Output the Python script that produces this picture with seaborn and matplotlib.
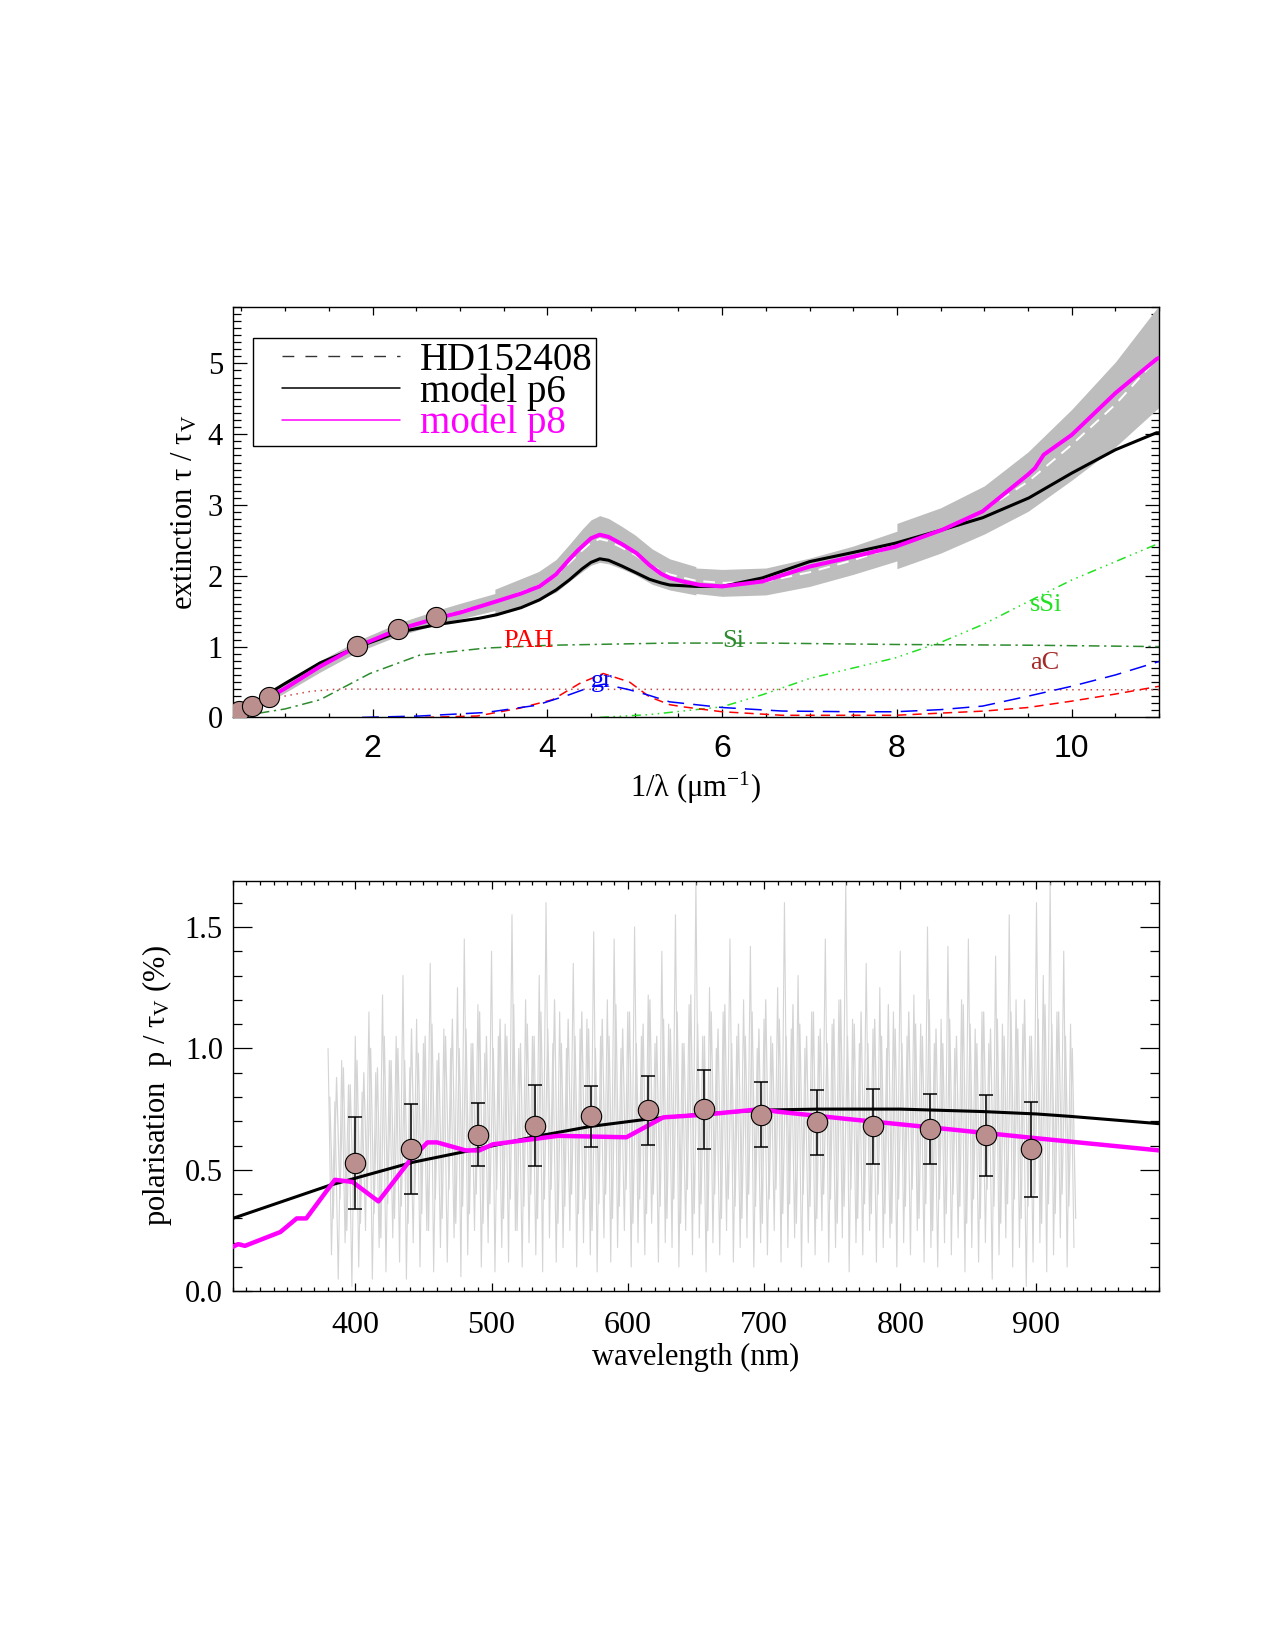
import numpy as np
import matplotlib
matplotlib.use("Agg")
import matplotlib.pyplot as plt
import seaborn as sns
from matplotlib.ticker import MultipleLocator
from matplotlib.lines import Line2D
from matplotlib.legend_handler import HandlerLine2D

# ---------------- top panel: extinction curve ----------------
# model p8 (magenta)
p8_x = [0.45, 0.6, 0.8, 1.0, 1.4, 1.82, 2.29, 2.73, 3.0, 3.42, 3.7, 3.91, 4.1, 4.25, 4.35, 4.5,
        4.6, 4.7, 4.85, 5.02, 5.17, 5.3, 5.4, 5.55, 5.75, 6.0, 6.46, 7.0, 7.5, 7.98, 8.52, 8.98,
        9.5, 9.58, 9.68, 10.0, 10.5, 10.97, 11.0]
p8_y = [0.04, 0.13, 0.27, 0.41, 0.72, 1.0, 1.24, 1.40, 1.48, 1.64, 1.75, 1.85, 2.02, 2.23, 2.36, 2.53,
        2.58, 2.55, 2.45, 2.32, 2.15, 2.03, 1.97, 1.92, 1.87, 1.85, 1.92, 2.13, 2.27, 2.41, 2.65, 2.91,
        3.43, 3.52, 3.71, 3.99, 4.58, 5.06, 5.08]
# model p6 (black)
p6_x = [0.45, 0.6, 0.8, 1.0, 1.4, 1.82, 2.29, 2.73, 3.22, 3.42, 3.7, 3.91, 4.1, 4.25, 4.4, 4.5,
        4.6, 4.7, 4.85, 5.02, 5.17, 5.3, 5.4, 5.7, 6.0, 6.46, 7.0, 7.5, 7.98, 8.52, 8.98, 9.51,
        10.0, 10.5, 10.97, 11.0]
p6_y = [0.06, 0.16, 0.33, 0.48, 0.77, 0.99, 1.20, 1.31, 1.40, 1.45, 1.55, 1.66, 1.80, 1.94, 2.10, 2.19,
        2.24, 2.22, 2.14, 2.04, 1.95, 1.90, 1.87, 1.85, 1.85, 1.97, 2.20, 2.33, 2.46, 2.65, 2.82, 3.10,
        3.45, 3.78, 4.02, 4.02]
# HD152408 observed extinction and its uncertainty (segmented)
hd_x = [0.8, 1.0, 1.4, 1.82, 2.29, 2.73, 3.0, 3.4, 3.4, 3.9, 4.1, 4.25, 4.4, 4.5, 4.6, 4.7, 4.85,
        5.0, 5.2, 5.4, 5.7, 5.7, 6.0, 6.5, 7.0, 7.5, 8.0, 8.0, 8.5, 9.0, 9.5, 10.0, 10.5, 11.0]
hd_y = [0.27, 0.42, 0.72, 1.0, 1.24, 1.41, 1.50, 1.63, 1.63, 1.86, 2.00, 2.18, 2.36, 2.47, 2.52, 2.49, 2.40,
        2.30, 2.13, 2.02, 1.93, 1.93, 1.90, 1.92, 2.05, 2.22, 2.42, 2.42, 2.64, 2.93, 3.33, 3.85, 4.42, 5.10]
hd_err = [0.06, 0.07, 0.08, 0.08, 0.09, 0.10, 0.11, 0.12, 0.18, 0.20, 0.23, 0.26, 0.30, 0.32, 0.33, 0.32,
          0.30, 0.28, 0.25, 0.22, 0.20, 0.18, 0.19, 0.19, 0.20, 0.20, 0.21, 0.32, 0.32, 0.34, 0.42, 0.50,
          0.60, 0.72]
# photometric points
phot_x = [0.47, 0.62, 0.815, 1.82, 2.29, 2.73]
phot_y = [0.09, 0.16, 0.29, 1.01, 1.25, 1.42]
# dust components
si_x = [0.45, 0.54, 0.7, 1.0, 1.4, 1.97, 2.54, 3.3, 4.06, 5.4, 6.5, 8.0, 9.5, 11.0]
si_y = [0.0, 0.03, 0.06, 0.12, 0.25, 0.62, 0.88, 0.98, 1.02, 1.05, 1.05, 1.03, 1.02, 1.0]
ssi_x = [4.6, 5.17, 6.0, 6.46, 7.0, 7.98, 8.52, 8.98, 9.51, 10.0, 10.5, 11.0]
ssi_y = [0.0, 0.04, 0.15, 0.32, 0.55, 0.84, 1.07, 1.31, 1.64, 1.94, 2.20, 2.46]
ac_x = [0.6, 0.9, 1.3, 1.6, 11.0]
ac_y = [0.12, 0.28, 0.37, 0.40, 0.39]
pah_x = [2.6, 3.2, 3.68, 4.06, 4.37, 4.64, 4.94, 5.17, 5.4, 5.55, 6.0, 6.69, 7.98, 9.0, 9.5,
         10.0, 10.5, 11.0]
pah_y = [0.0, 0.02, 0.13, 0.25, 0.48, 0.62, 0.50, 0.29, 0.18, 0.15, 0.08, 0.03, 0.03, 0.09, 0.14,
         0.23, 0.33, 0.44]
gr_x = [1.88, 2.54, 3.3, 3.87, 4.25, 4.52, 4.65, 4.94, 5.17, 5.4, 5.55, 6.0, 6.69, 7.5, 7.98,
        8.5, 8.98, 9.5, 10.0, 10.5, 11.0]
gr_y = [0.0, 0.02, 0.07, 0.17, 0.32, 0.44, 0.47, 0.39, 0.31, 0.22, 0.20, 0.14, 0.09, 0.08, 0.08,
        0.11, 0.16, 0.30, 0.44, 0.60, 0.79]

top_xticks = [2, 4, 6, 8, 10]
top_yticks = [0, 1, 2, 3, 4, 5]

# ---------------- bottom panel: polarisation ----------------
pol_wl = [400, 441, 490, 532, 573, 615, 656, 698, 739, 780, 822, 863, 896]
pol_val = [0.527, 0.586, 0.645, 0.682, 0.72, 0.746, 0.75, 0.727, 0.695, 0.679, 0.668, 0.643, 0.585]
pol_err = [0.19, 0.185, 0.13, 0.166, 0.124, 0.142, 0.163, 0.135, 0.135, 0.153, 0.145, 0.167, 0.195]

pp6_wl = [310, 381, 442, 490, 532, 573, 615, 656, 698, 740, 800, 860, 900, 925, 990]
pp6_val = [0.30, 0.436, 0.531, 0.586, 0.637, 0.679, 0.709, 0.73, 0.746, 0.75, 0.75, 0.74, 0.73,
           0.72, 0.69]
pp8_wl = [310, 314, 319, 345, 357, 364, 385, 398, 417, 440, 453, 460, 481, 491, 501, 549, 599,
          626, 656, 698, 709, 760, 822, 900, 990]
pp8_val = [0.183, 0.194, 0.187, 0.244, 0.30, 0.30, 0.459, 0.45, 0.37, 0.538, 0.613, 0.613, 0.58,
           0.58, 0.605, 0.64, 0.634, 0.716, 0.727, 0.75, 0.74, 0.71, 0.675, 0.63, 0.58]

# noisy spectropolarimetry, every 5 nm from 380 nm: large excursions
spec_hi = [1.00, 0.78, 0.95, 0.85, 1.05, 0.82, 1.15, 0.90, 1.22, 0.95,
           1.05, 1.30, 0.92, 1.12, 1.02, 1.35, 0.95, 1.08, 1.00, 1.25,
           1.45, 1.02, 1.18, 0.98, 1.40, 1.05, 1.10, 1.55, 1.00, 1.20,
           1.05, 1.30, 1.60, 1.02, 1.15, 1.00, 1.35, 1.08, 1.12, 1.48,
           1.05, 1.20, 1.45, 1.00, 1.15, 1.50, 1.05, 1.22, 1.02, 1.40,
           1.10, 1.55, 1.02, 1.18, 1.68, 1.05, 1.25, 1.00, 1.15, 1.45,
           1.05, 1.20, 1.42, 1.00, 1.12, 1.05, 1.25, 1.60, 1.08, 1.30,
           1.00, 1.15, 1.05, 1.45, 1.10, 1.20, 1.68, 1.12, 1.02, 1.35,
           1.08, 1.25, 1.00, 1.15, 1.40, 1.05, 1.22, 1.10, 1.50, 1.02,
           1.12, 1.42, 1.00, 1.20, 1.45, 1.08, 1.15, 1.02, 1.38, 1.10,
           1.55, 1.20, 1.10, 1.05, 1.60, 1.30, 1.68, 1.15, 1.40, 1.10]
spec_lo = [0.15, 0.05, 0.20, 0.02, 0.10, 0.25, 0.05, 0.18, 0.08, 0.22,
           0.12, 0.05, 0.20, 0.10, 0.25, 0.08, 0.18, 0.12, 0.22, 0.06,
           0.15, 0.25, 0.10, 0.20, 0.08, 0.18, 0.12, 0.25, 0.10, 0.20,
           0.15, 0.08, 0.22, 0.12, 0.18, 0.25, 0.10, 0.20, 0.15, 0.08,
           0.22, 0.12, 0.18, 0.25, 0.10, 0.20, 0.15, 0.28, 0.12, 0.20,
           0.18, 0.10, 0.25, 0.15, 0.22, 0.08, 0.20, 0.15, 0.25, 0.12,
           0.18, 0.22, 0.10, 0.20, 0.15, 0.25, 0.12, 0.18, 0.22, 0.10,
           0.20, 0.15, 0.25, 0.12, 0.18, 0.22, 0.08, 0.20, 0.15, 0.25,
           0.12, 0.18, 0.22, 0.10, 0.20, 0.15, 0.25, 0.12, 0.18, 0.10,
           0.20, 0.15, 0.22, 0.08, 0.18, 0.12, 0.20, 0.05, 0.15, 0.22,
           0.10, 0.18, 0.02, 0.12, 0.20, 0.08, 0.15, 0.22, 0.10, 0.18]
# moderate excursions (same 5 nm grid, shifted by 1.25 nm)
spec2_hi = [0.80, 0.88, 0.92, 0.85, 0.95, 0.90, 1.00, 0.92, 1.05, 0.95,
            1.00, 0.95, 1.08, 0.98, 1.05, 1.10, 0.98, 1.05, 1.12, 1.00,
            1.08, 1.02, 1.15, 1.05, 1.00, 1.12, 1.05, 1.18, 1.02, 1.10,
            1.05, 1.15, 1.08, 1.20, 1.02, 1.12, 1.05, 1.15, 1.08, 1.00,
            1.12, 1.05, 1.18, 1.08, 1.15, 1.02, 1.10, 1.20, 1.05, 1.12,
            1.08, 1.15, 1.02, 1.22, 1.10, 1.05, 1.15, 1.08, 1.18, 1.02,
            1.10, 1.05, 1.15, 1.08, 1.20, 1.02, 1.12, 1.05, 1.18, 1.10,
            1.05, 1.15, 1.08, 1.02, 1.12, 1.20, 1.05, 1.10, 1.15, 1.02,
            1.12, 1.05, 1.18, 1.08, 1.02, 1.15, 1.10, 1.05, 1.20, 1.08,
            1.02, 1.12, 1.05, 1.18, 1.10, 1.02, 1.15, 1.08, 1.12, 1.05,
            1.15, 1.08, 1.20, 1.05, 1.12, 1.18, 1.10, 1.15, 1.05, 1.00]
spec2_lo = [0.30, 0.38, 0.25, 0.35, 0.28, 0.40, 0.32, 0.22, 0.36, 0.30,
            0.35, 0.28, 0.40, 0.32, 0.25, 0.38, 0.30, 0.42, 0.28, 0.35,
            0.32, 0.40, 0.28, 0.36, 0.42, 0.30, 0.38, 0.25, 0.35, 0.40,
            0.30, 0.38, 0.42, 0.28, 0.35, 0.40, 0.32, 0.38, 0.25, 0.36,
            0.40, 0.30, 0.35, 0.42, 0.28, 0.38, 0.32, 0.40, 0.35, 0.30,
            0.38, 0.28, 0.42, 0.32, 0.36, 0.25, 0.40, 0.30, 0.38, 0.35,
            0.30, 0.40, 0.35, 0.28, 0.38, 0.42, 0.32, 0.36, 0.28, 0.40,
            0.35, 0.30, 0.40, 0.38, 0.28, 0.35, 0.42, 0.30, 0.36, 0.32,
            0.40, 0.32, 0.28, 0.38, 0.35, 0.42, 0.30, 0.36, 0.25, 0.38,
            0.32, 0.40, 0.35, 0.28, 0.38, 0.30, 0.42, 0.35, 0.28, 0.36,
            0.38, 0.30, 0.35, 0.40, 0.28, 0.36, 0.32, 0.40, 0.35, 0.30]

bot_xticks = [400, 500, 600, 700, 800, 900]
bot_yticks = [0.0, 0.5, 1.0, 1.5]
bot_yticklabels = ["0.0", "0.5", "1.0", "1.5"]

# ---------------- style ----------------
sns.set_theme(style="ticks")
SERIF = ["Liberation Serif", "DejaVu Serif"]
SANS = ["Liberation Sans", "DejaVu Sans"]
plt.rcParams["font.family"] = SERIF
plt.rcParams["mathtext.fontset"] = "custom"
plt.rcParams["mathtext.rm"] = "Liberation Serif"
plt.rcParams["mathtext.it"] = "Liberation Serif:italic"
plt.rcParams["mathtext.bf"] = "Liberation Serif:bold"
plt.rcParams["axes.linewidth"] = 1.0
plt.rcParams["axes.edgecolor"] = "black"
plt.rcParams["text.color"] = "black"
plt.rcParams["axes.labelcolor"] = "black"
plt.rcParams["xtick.color"] = "black"
plt.rcParams["ytick.color"] = "black"

MAG = "#ff00ff"
ROSY = "#bc8f8f"
SPEC = "#d4d4d4"

fig = plt.figure(figsize=(12.75, 16.5), dpi=100)
ax1 = fig.add_axes([0.1825, 0.5652, 0.7266, 0.2489])
ax2 = fig.add_axes([0.1825, 0.2174, 0.7266, 0.2488])

# ---- top panel ----
hd_x_a = np.array(hd_x)
hd_y_a = np.array(hd_y)
hd_e_a = np.array(hd_err)
ax1.fill_between(hd_x_a, hd_y_a - hd_e_a, hd_y_a + hd_e_a, color="#bdbdbd", lw=0, zorder=1)
hd_line, = ax1.plot(hd_x, hd_y, color="white", lw=1.4, zorder=2)
hd_line.set_dashes([6, 4])

comp = [(si_x, si_y, "#2e8b2e", [7, 3, 1.5, 3]),
        (ssi_x, ssi_y, "#22e022", [6, 3, 1, 3, 1, 3, 1, 3]),
        (ac_x, ac_y, "#c84848", [1, 3]),
        (pah_x, pah_y, "#ff0000", [6, 4]),
        (gr_x, gr_y, "#0000ff", [11, 6])]
for cx, cy, col, dash in comp:
    sns.lineplot(x=cx, y=cy, color=col, lw=1.1, ax=ax1, sort=False, estimator=None, zorder=2)
    ax1.lines[-1].set_dashes(dash)

sns.lineplot(x=p6_x, y=p6_y, color="black", lw=2.2, ax=ax1, sort=False, estimator=None, zorder=3)
sns.lineplot(x=p8_x, y=p8_y, color=MAG, lw=2.9, ax=ax1, sort=False, estimator=None, zorder=4)
sns.scatterplot(x=phot_x, y=phot_y, s=210, color=ROSY, edgecolor="black", linewidth=0.8,
                ax=ax1, zorder=6)

lab_kw = dict(fontsize=19, ha="left", va="baseline", zorder=7)
ax1.text(3.5, 1.0, "PAH", color="#ff0000", **lab_kw)
ax1.text(6.0, 1.0, "Si", color="#2e8b2e", **lab_kw)
ax1.text(9.52, 1.5, "sSi", color="#22e022", **lab_kw)
ax1.text(9.52, 0.69, "aC", color="#a52a2a", **lab_kw)
ax1.text(4.5, 0.43, "gr", color="#0000ff", **lab_kw)

ax1.set_xlim(0.4, 11.0)
ax1.set_ylim(0.0, 5.8)
ax1.set_xticks(top_xticks, labels=[str(t) for t in top_xticks], fontfamily=SANS, fontsize=23)
ax1.set_yticks(top_yticks, labels=[str(t) for t in top_yticks], fontsize=22)
ax1.xaxis.set_minor_locator(MultipleLocator(0.5))
ax1.yaxis.set_minor_locator(MultipleLocator(0.1))
ax1.tick_params(axis="x", which="major", direction="in", top=True, bottom=True, length=5.5,
                width=0.9, pad=12)
ax1.tick_params(axis="x", which="minor", direction="in", top=True, bottom=True, length=3,
                width=0.9)
ax1.tick_params(axis="y", which="major", direction="in", left=True, right=True, length=10,
                width=0.9, pad=7)
ax1.tick_params(axis="y", which="minor", direction="in", left=True, right=True, length=6,
                width=0.9)
ax1.set_xlabel("1/λ (μm$^{-1}$)", fontsize=22, labelpad=4)
ax1.set_ylabel("extinction τ / τ$_{\\rm V}$", fontsize=22, labelpad=6)

leg_handles = [Line2D([], [], color="#333333", lw=1.0, dashes=[8.5, 8]),
               Line2D([], [], color="black", lw=1.1),
               Line2D([], [], color=MAG, lw=1.1)]
leg = ax1.legend(leg_handles, ["HD152408", "model p6", "model p8"], loc="upper left",
                 bbox_to_anchor=(0.0216, 0.924), borderaxespad=0, fontsize=28,
                 frameon=True, fancybox=False, edgecolor="black", framealpha=1,
                 borderpad=0.1, handlelength=3.69, handletextpad=0.5, labelspacing=-0.15,
                 handler_map={Line2D: HandlerLine2D(xpad=0.66)})
leg.get_frame().set_linewidth(1.0)
for t in leg.get_texts():
    t.set_color("black")
leg.get_texts()[2].set_color(MAG)

# ---- bottom panel ----
spec_wl = np.arange(380, 930, 5)
zig_x = np.ravel(np.column_stack([spec_wl, spec_wl + 2.5]))
zig_y = np.ravel(np.column_stack([spec_hi, spec_lo]))
zig2_x = np.ravel(np.column_stack([spec_wl + 1.25, spec_wl + 3.75]))
zig2_y = np.ravel(np.column_stack([spec2_hi, spec2_lo]))
ax2.plot(zig_x, zig_y, color=SPEC, lw=0.8, zorder=1)
ax2.plot(zig2_x, zig2_y, color=SPEC, lw=0.9, zorder=1)

sns.lineplot(x=pp6_wl, y=pp6_val, color="black", lw=2.2, ax=ax2, sort=False, estimator=None,
             zorder=3)
sns.lineplot(x=pp8_wl, y=pp8_val, color=MAG, lw=3.2, ax=ax2, sort=False, estimator=None,
             zorder=4)
ax2.errorbar(pol_wl, pol_val, yerr=pol_err, fmt="none", ecolor="black", elinewidth=1.1,
             capsize=5, capthick=1.1, zorder=5)
sns.scatterplot(x=pol_wl, y=pol_val, s=215, color=ROSY, edgecolor="black", linewidth=0.8,
                ax=ax2, zorder=6)

ax2.set_xlim(310, 990)
ax2.set_ylim(0.0, 1.69)
ax2.set_xticks(bot_xticks, labels=[str(t) for t in bot_xticks], fontsize=23)
ax2.set_yticks(bot_yticks, labels=bot_yticklabels, fontsize=22)
ax2.xaxis.set_minor_locator(MultipleLocator(10))
ax2.yaxis.set_minor_locator(MultipleLocator(0.1))
ax2.tick_params(axis="x", which="major", direction="in", top=True, bottom=True, length=6,
                width=0.9, pad=14)
ax2.tick_params(axis="x", which="minor", direction="in", top=True, bottom=True, length=3,
                width=0.9)
ax2.tick_params(axis="y", which="major", direction="in", left=True, right=True, length=13.5,
                width=0.9, pad=7)
ax2.tick_params(axis="y", which="minor", direction="in", left=True, right=True, length=6.5,
                width=0.9)
ax2.set_xlabel("wavelength (nm)", fontsize=22, labelpad=2)
ax2.set_ylabel("polarisation  p / τ$_{\\rm V}$ (%)", fontsize=22, labelpad=8)

for ax in (ax1, ax2):
    for sp in ax.spines.values():
        sp.set_visible(True)
        sp.set_color("black")
        sp.set_linewidth(1.0)

fig.savefig("out.png", dpi=100, facecolor="white")
